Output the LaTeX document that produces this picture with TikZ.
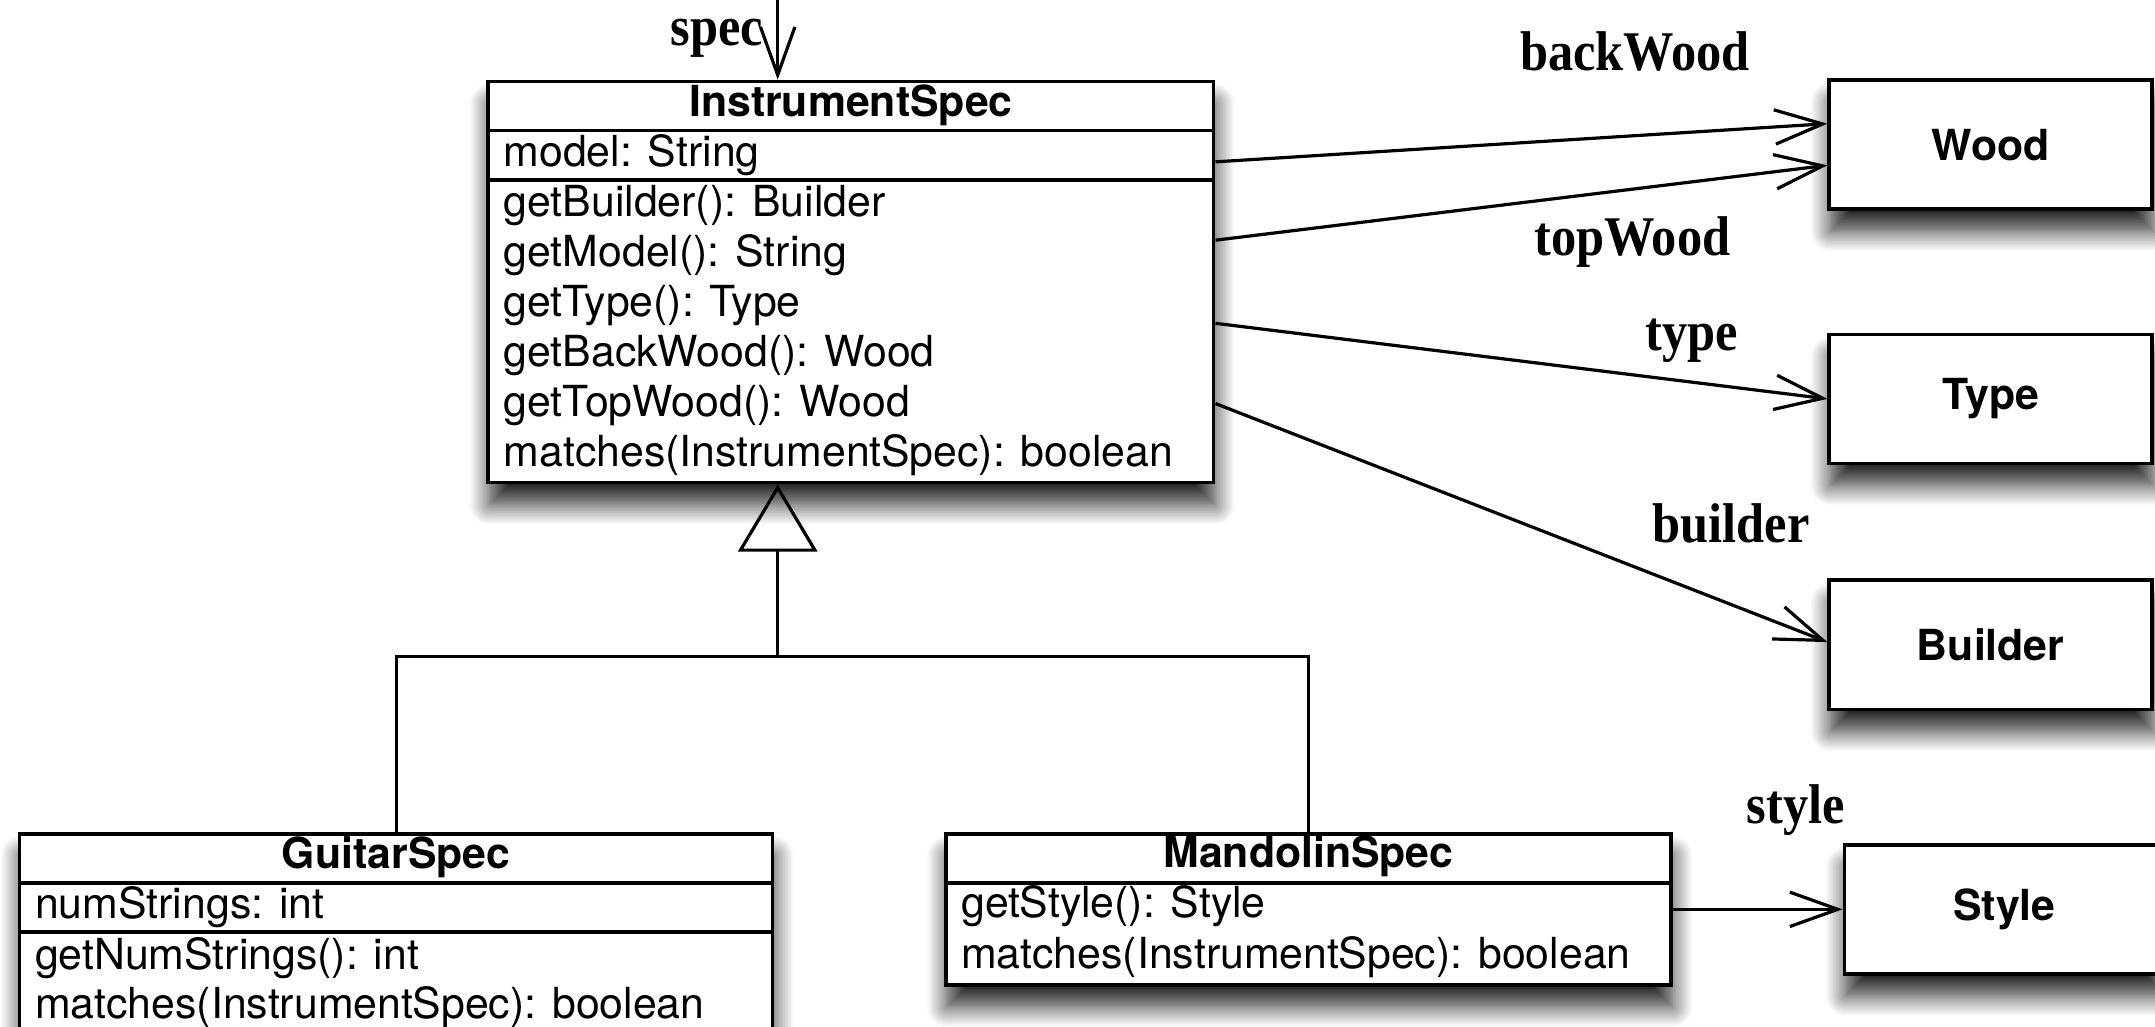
\documentclass[tikz,border=0pt]{standalone}
\usepackage{fontspec}
\setmainfont{TeX Gyre Heros}
\newfontfamily\rolefont[FakeStretch=0.9]{Liberation Serif}
\usetikzlibrary{arrows.meta, calc, shadows.blur}
\def\px{0.3435pt}
\tikzset{
	classbox/.style={rectangle, draw=black, line width=0.9pt, fill=white, inner sep=0pt, anchor=north west,
		blur shadow={shadow xshift=0.3pt, shadow yshift=-5.5pt, shadow blur radius=5pt, shadow blur steps=14, shadow opacity=85}},
	boxsize/.style 2 args={minimum width=#1*\px, minimum height=#2*\px},
	classname/.style={font=\fontsize{10.7}{12}\selectfont\bfseries, anchor=base, inner sep=0pt},
	member/.style={font=\fontsize{10.7}{12}\selectfont, anchor=base west, inner sep=0pt},
	role/.style={font=\rolefont\bfseries\fontsize{14}{16}\selectfont, anchor=base, inner sep=0pt},
	divider/.style={line width=0.9pt},
	assoc/.style={-{Straight Barb[length=12pt, width=8.6pt]}, line width=0.8pt},
	inherit/.style={-{Triangle[open, length=16.8pt, width=19.8pt]}, line width=0.8pt},
}

\begin{document}
\begin{tikzpicture}[x=\px, y=-\px]
	\useasboundingbox (0,0) rectangle (1568.4,747.3);

	% class boxes
	\node at (354,58) (ispec) [classbox, boxsize={528}{292}] {};
	\node at (13,605.5) (gspec) [classbox, boxsize={548}{146}] {};
	\node at (687,605.5) (mspec) [classbox, boxsize={528}{110}] {};

	\node at (1330,57) (wood) [classbox, boxsize={235}{94}, classname, anchor=north west] {Wood};
	\node at (1330,242) (type) [classbox, boxsize={235}{94}, classname, anchor=north west] {Type};
	\node at (1330,421) (builder) [classbox, boxsize={235}{94}, classname, anchor=north west] {Builder};
	\node at (1341,613.5) (style) [classbox, boxsize={233}{94}, classname, anchor=north west] {Style};

	% compartments
	\draw[divider] ($(ispec.north west)+(0,37)$) -- ($(ispec.north east)+(0,37)$);
	\draw[divider] ($(ispec.north west)+(0,73)$) -- ($(ispec.north east)+(0,73)$);
	\draw[divider] ($(gspec.north west)+(0,37)$) -- ($(gspec.north east)+(0,37)$);
	\draw[divider] ($(gspec.north west)+(0,73)$) -- ($(gspec.north east)+(0,73)$);
	\draw[divider] ($(mspec.north west)+(0,37)$) -- ($(mspec.north east)+(0,37)$);

	% InstrumentSpec
	\node at ($(ispec.north)+(0,27)$) (ispecname) [classname] {InstrumentSpec};
	\node at ($(ispec.north west)+(12,63.4)$) (ispecmodel) [member] {model: String};
	\node at ($(ispec.north west)+(12,99.8)$) (ispecbuilder) [member] {getBuilder(): Builder};
	\node at ($(ispec.north west)+(12,136.2)$) (ispecgetmodel) [member] {getModel(): String};
	\node at ($(ispec.north west)+(12,172.6)$) (ispectype) [member] {getType(): Type};
	\node at ($(ispec.north west)+(12,209)$) (ispecback) [member] {getBackWood(): Wood};
	\node at ($(ispec.north west)+(12,245.4)$) (ispectop) [member] {getTopWood(): Wood};
	\node at ($(ispec.north west)+(12,281.8)$) (ispecmatches) [member] {matches(InstrumentSpec): boolean};

	% GuitarSpec
	\node at ($(gspec.north)+(0,26.5)$) (gspecname) [classname] {GuitarSpec};
	\node at ($(gspec.north west)+(12,62.8)$) (gspecstrings) [member] {numStrings: int};
	\node at ($(gspec.north west)+(12,100.2)$) (gspecgetstrings) [member] {getNumStrings(): int};
	\node at ($(gspec.north west)+(12,135.8)$) (gspecmatches) [member] {matches(InstrumentSpec): boolean};

	% MandolinSpec
	\node at ($(mspec.north)+(0,26)$) (mspecname) [classname] {MandolinSpec};
	\node at ($(mspec.north west)+(12,62.5)$) (mspecstyle) [member] {getStyle(): Style};
	\node at ($(mspec.north west)+(12,99.5)$) (mspecmatches) [member] {matches(InstrumentSpec): boolean};

	% associations
	\coordinate (specin) at (566,0);
	\draw[assoc] (specin) -- (specin |- ispec.north);
	\draw[assoc] ($(ispec.east)+(0,-87.5)$) -- ($(wood.west)+(0,-15.3)$);
	\draw[assoc] ($(ispec.east)+(0,-30.5)$) -- ($(wood.west)+(0,15)$);
	\draw[assoc] ($(ispec.east)+(0,30)$) -- (type.west);
	\draw[assoc] ($(ispec.east)+(0,88.4)$) -- ($(builder.west)+(0,-2)$);
	\draw[assoc] (mspec.east) -- (style.west);

	% generalization
	\coordinate (hub) at (566,478);
	\draw[inherit] (hub) -- (hub |- ispec.south);
	\draw[line width=0.8pt] (gspec.north) |- (hub) -| (mspec.north);

	% role names
	\node at (556,33) (specrole) [role, anchor=base east] {spec};
	\node at (1190,51) (backrole) [role] {backWood};
	\node at (1188,186) (toprole) [role] {topWood};
	\node at (1231,255) (typerole) [role] {type};
	\node at (1260,395) (builderrole) [role] {builder};
	\node at (1307,599) (stylerole) [role] {style};
\end{tikzpicture}
\end{document}
